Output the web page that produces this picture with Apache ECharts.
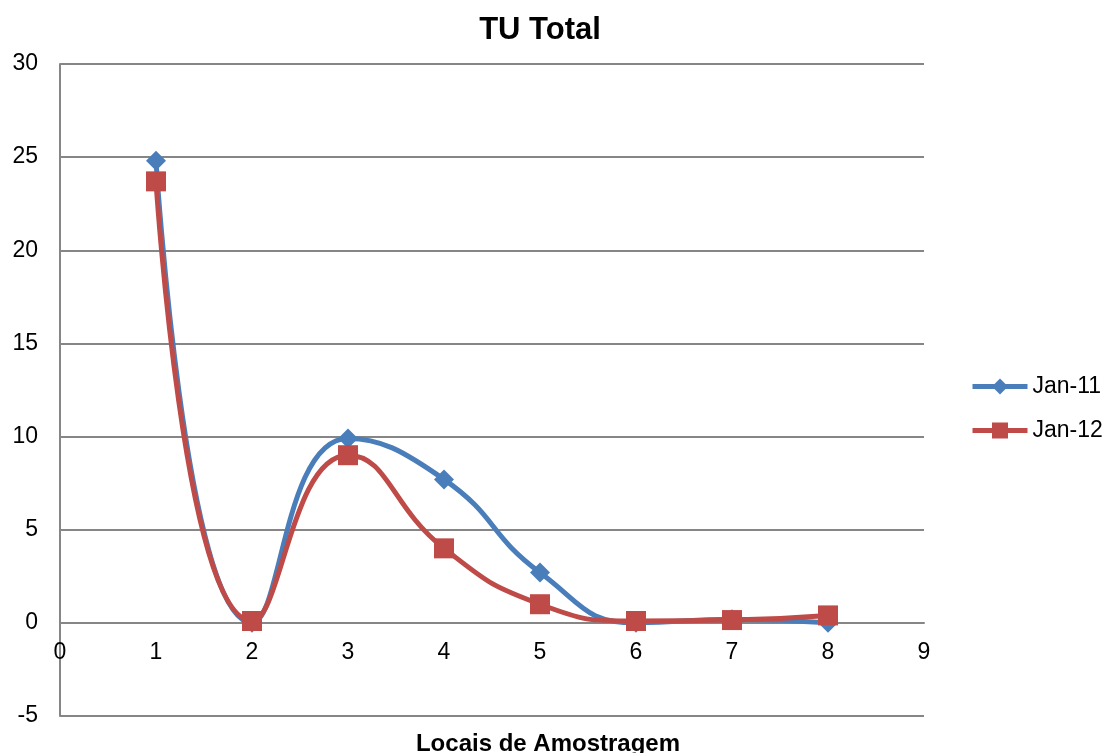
<!DOCTYPE html>
<html>
<head>
<meta charset="utf-8">
<script src="https://cdn.jsdelivr.net/npm/echarts@6/dist/echarts.min.js"></script>
<style>
  html, body { margin: 0; padding: 0; background: #fff; }
  #chart { width: 1105px; height: 753px; }
</style>
</head>
<body>
<div id="chart"></div>
<script>
// Sampling sites and TU totals per campaign
const sites = [1, 2, 3, 4, 5, 6, 7, 8];
const jan11 = [24.8, 0.0, 9.9, 7.7, 2.7, 0.0, 0.2, 0.0];
const jan12 = [23.7, 0.1, 9.0, 4.0, 1.0, 0.1, 0.15, 0.4];
const seriesNames = ['Jan-11', 'Jan-12'];

const FONT = 'Liberation Sans, Arial, sans-serif';
const AXIS_GRAY = '#868686';
const Y_MIN = -5, Y_MAX = 30;
const GRID = { left: 60, right: 181, top: 64, bottom: 37 };

const pairs = (ys) => sites.map((x, i) => [x, ys[i]]);

// Horizontal axis sits on the y = 0 line, so shift it up from the grid bottom
const plotHeight = 753 - GRID.top - GRID.bottom;
const zeroOffset = -plotHeight * (0 - Y_MIN) / (Y_MAX - Y_MIN);

const chart = echarts.init(document.getElementById('chart'));
chart.setOption({
  backgroundColor: '#ffffff',
  animation: false,
  title: [
    {
      text: 'TU Total',
      left: 535, top: 10, textAlign: 'center',
      textStyle: { fontFamily: FONT, fontSize: 31, fontWeight: 'bold', color: '#000' }
    },
    {
      text: 'Locais de Amostragem',
      left: 543, top: 727, textAlign: 'center',
      textStyle: { fontFamily: FONT, fontSize: 24, fontWeight: 'bold', color: '#000' }
    }
  ],
  legend: {
    orient: 'vertical',
    left: 970, top: 375, padding: 0,
    itemWidth: 55, itemHeight: 20, itemGap: 21,
    lineStyle: { width: 5 },
    textStyle: { fontFamily: FONT, fontSize: 23, color: '#000' },
    data: seriesNames
  },
  grid: GRID,
  xAxis: {
    type: 'value', min: 0, max: 9, interval: 1,
    offset: zeroOffset,
    axisLine: { onZero: false, lineStyle: { color: AXIS_GRAY, width: 2 } },
    axisTick: { show: false },
    splitLine: { show: false },
    axisLabel: { fontFamily: FONT, fontSize: 23, color: '#000', margin: 18 }
  },
  yAxis: {
    type: 'value', min: Y_MIN, max: Y_MAX, interval: 5,
    axisLine: { show: true, onZero: false, lineStyle: { color: AXIS_GRAY, width: 2 } },
    axisTick: { show: false },
    splitLine: { show: true, lineStyle: { color: AXIS_GRAY, width: 2 } },
    axisLabel: { fontFamily: FONT, fontSize: 23, color: '#000', margin: 22 }
  },
  series: [
    {
      name: seriesNames[0], type: 'line', smooth: 0.5,
      data: pairs(jan11),
      symbol: 'diamond', symbolSize: 20,
      lineStyle: { color: '#4a7ebb', width: 5 },
      itemStyle: { color: '#4a7ebb' },
      z: 2
    },
    {
      name: seriesNames[1], type: 'line', smooth: 0.5,
      data: pairs(jan12),
      symbol: 'rect', symbolSize: 20,
      lineStyle: { color: '#be4b48', width: 5 },
      itemStyle: { color: '#be4b48' },
      z: 3
    }
  ]
});
</script>
</body>
</html>
